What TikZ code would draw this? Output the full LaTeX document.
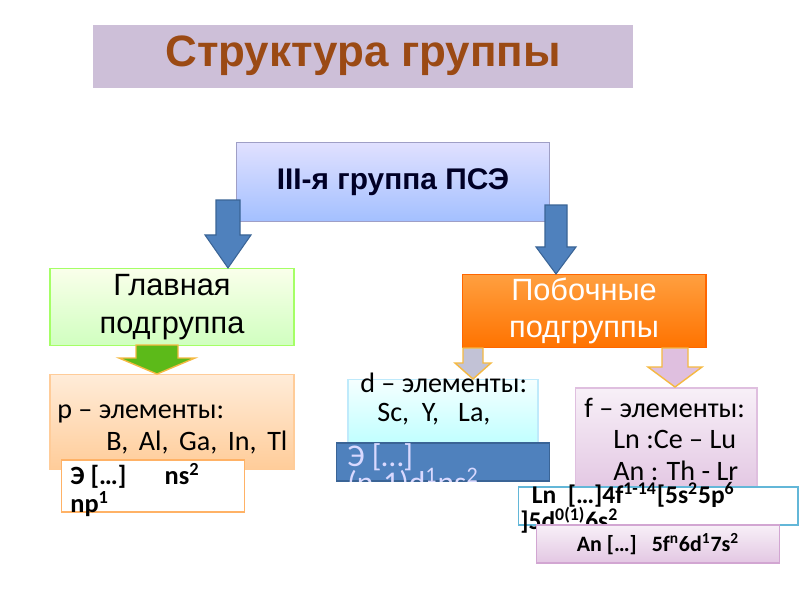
\documentclass[tikz,border=0pt]{standalone}
\usepackage{fontspec}
\setmainfont{Carlito}
\newfontfamily\arialfont{Liberation Sans}
\usetikzlibrary{calc}

\definecolor{titlebg}{HTML}{CDBFD8}
\definecolor{titletxt}{HTML}{9B4A14}
\definecolor{blockblue}{HTML}{4F81BD}
\definecolor{blockedge}{HTML}{3A6496}
\definecolor{arrowyellow}{HTML}{F5B942}

\newcommand\tightlines{\lineskiplimit=-20pt\relax}

\tikzset{
  box/.style={draw, line width=0.6pt, inner sep=0pt},
  boxtxt/.style={anchor=base west, inner sep=0pt, font=\fontsize{16}{18}\selectfont},
  formtxt/.style={anchor=north west, inner sep=0pt, align=left},
  bluearrow/.style={fill=blockblue, draw=blockedge, line width=0.6pt},
}

% block arrow: style, start, end, shaft half, head half, head length
\newcommand\blockarrow[6]{%
  \filldraw[#1] ($(#2)+(-#4,0)$) -- ($(#2)+(#4,0)$) -- ($(#3)+(#4,-#6)$)
    -- ($(#3)+(#5,-#6)$) -- (#3) -- ($(#3)+(-#5,-#6)$) -- ($(#3)+(-#4,-#6)$) -- cycle;}

\begin{document}
\begin{tikzpicture}[x=0.02cm, y=-0.02cm]
  \fill[white] (0,0) rectangle (800,600);
  \useasboundingbox (0,0) rectangle (800,600);

  % title
  \node[fill=titlebg, minimum width=10.8cm, minimum height=1.26cm, inner sep=0pt,
        text=titletxt, font=\arialfont\bfseries\fontsize{25}{30}\selectfont]
        (title) at (363,56) {Структура группы};

  % III group
  \node[box, draw=blue!25!gray!60, top color=blue!12, bottom color=blue!30!cyan!20!white!80!blue,
        minimum width=6.26cm, minimum height=1.58cm, text=black!85!blue,
        font=\arialfont\bfseries\fontsize{17}{20}\selectfont]
        (group) at (393,182) {III-я группа ПСЭ};

  \node[box, draw=green!45!lime!60!white, top color=lime!8, bottom color=lime!35!green!25!white,
        minimum width=4.88cm, minimum height=1.54cm, align=center,
        font=\arialfont\fontsize{17.5}{21.5}\selectfont]
        (main) at (172,307) {Главная\\подгруппа};
  \node[box, draw=orange!80!red, top color=orange!75!white, bottom color=orange!90!red,
        minimum width=4.88cm, minimum height=1.46cm, align=center, text=white,
        font=\arialfont\fontsize{17.5}{21.5}\selectfont]
        (side) at (584,311) {Побочные\\подгруппы};

  \coordinate (la) at (228,200);
  \coordinate (lb) at (la |- main.north);
  \coordinate (ra) at (556,205);
  \coordinate (rb) at (ra |- side.north);
  \blockarrow{bluearrow}{la}{lb}{12}{23}{33}
  \blockarrow{bluearrow}{ra}{rb}{11}{20}{27}

  % p-elements
  \node[box, draw=orange!40, top color=orange!15, bottom color=orange!40!white,
        minimum width=4.88cm, minimum height=1.9cm] (pbox) at (172,422) {};
  \node[boxtxt] (ptitle) at (57,418) {p – элементы:};
  \node[boxtxt] (plist) at (106,450)
        {B,\hspace{6pt}Al,\hspace{6pt}Ga,\hspace{6pt}In,\hspace{6pt}Tl};
  \node[box, draw=orange!60, fill=white, minimum width=3.66cm, minimum height=1.04cm]
        (pform) at (153,486) {};
  \node[formtxt, font=\fontsize{15}{16}\selectfont\bfseries\tightlines]
        (pf) at (70,463) {Э […]\quad\ \ ns\textsuperscript{2}\\np\textsuperscript{1}};

  \coordinate (ga) at (157,345);
  \coordinate (gb) at (157,374);
  \blockarrow{fill=green!45!lime!70!black!90, draw=arrowyellow, line width=0.8pt}{ga}{gb}{21}{38}{16}

  % d-elements
  \node[box, draw=cyan!25, top color=cyan!4, bottom color=cyan!25!white,
        minimum width=3.8cm, minimum height=1.3cm] (dbox) at (443,412) {};
  \node[boxtxt] (dtitle) at (360,392) {d – элементы:};
  \node[boxtxt] (dlist) at (377,421) {Sc,\ \ Y,\ \ \ La,};
  \node[box, draw=blockedge, fill=blockblue, minimum width=4.26cm, minimum height=0.76cm]
        (dform) at (443,462) {};
  \begin{scope}
    \clip (dform.north west) rectangle (dform.south east);
    \node[formtxt, text=blue!15!white, font=\fontsize{18}{15.5}\selectfont\tightlines]
          (df) at (347,443) {Э […]\\(n-1)d\textsuperscript{1}ns\textsuperscript{2}};
  \end{scope}

  \coordinate (da) at (side.south -| 473,0);
  \coordinate (db) at (473,379);
  \blockarrow{fill=blue!20!gray!40, draw=arrowyellow, line width=0.8pt}{da}{db}{10}{18}{16}

  % f-elements
  \node[box, draw=violet!25, top color=violet!6, bottom color=violet!22!white,
        minimum width=3.64cm, minimum height=2.04cm] (fbox) at (666,439) {};
  \node[boxtxt] (ftitle) at (584,417) {f – элементы:};
  \node[boxtxt] (fln) at (613,448) {Ln :Ce – Lu};
  \node[boxtxt] (fan) at (613,480) {An : Th - Lr};

  \coordinate (fa) at (side.south -| 675,0);
  \coordinate (fb) at (675,387);
  \blockarrow{fill=violet!25!white, draw=arrowyellow, line width=0.8pt}{fa}{fb}{13}{27}{20}

  \node[box, draw=cyan!60!teal!70, fill=white, minimum width=5.6cm, minimum height=0.76cm]
        (lnform) at (658,506) {};
  \node[formtxt, font=\fontsize{14.5}{14.5}\selectfont\bfseries\tightlines]
        (lf) at (520,482)
        {\hspace{6.5pt}Ln\ \ […]4f\textsuperscript{1-14}[5s\textsuperscript{2}5p\textsuperscript{6}\\
         ]5d\textsuperscript{0(1)}6s\textsuperscript{2}};
  \node[box, draw=violet!35, top color=violet!6, bottom color=violet!22!white,
        minimum width=4.86cm, minimum height=0.76cm,
        font=\fontsize{12.5}{15}\selectfont\bfseries]
        (anform) at (658,544) {An […]\ \ \ 5f\textsuperscript{n}6d\textsuperscript{1}7s\textsuperscript{2}};
\end{tikzpicture}
\end{document}
